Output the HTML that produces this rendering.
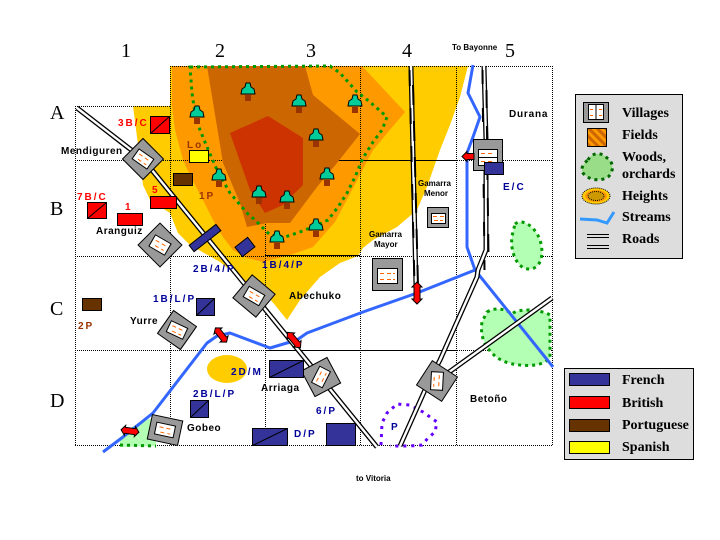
<!DOCTYPE html>
<html><head><meta charset="utf-8"><style>
html,body{margin:0;padding:0;background:#fff;}
svg{display:block;}
.l{font-family:"Liberation Sans",sans-serif;font-weight:bold;font-size:10px;fill:#000;}
.s{font-family:"Liberation Sans",sans-serif;font-weight:bold;font-size:8px;fill:#000;}
.u{font-family:"Liberation Sans",sans-serif;font-weight:bold;font-size:10px;letter-spacing:2px;}
.g{font-family:"Liberation Serif",serif;font-size:20px;fill:#000;}
.lg{font-family:"Liberation Serif",serif;font-weight:bold;font-size:14px;fill:#000;}
</style></head><body>
<svg width="720" height="540" viewBox="0 0 720 540" xmlns="http://www.w3.org/2000/svg">
<rect width="720" height="540" fill="#fff"/>

<!-- heights layers -->
<polygon fill="#FFCC00" points="133,106 170,106 170,66 468,66 460,97 450,125 440,150 427,187 417,210 397,227 373,240 363,248 358,256 340,263 320,277 300,300 287,320 275,305 262,290 245,282 220,262 190,245 178,233 170,213 150,200 143,185 140,160"/>
<polygon fill="#FF9900" points="172,66 362,66 405,112 373,150 352,190 335,222 313,247 290,255 263,262 247,258 233,250 223,237 213,220 203,200 190,175 183,160 175,130 172,106"/>

<!-- grid -->
<g stroke="#000" stroke-width="1" stroke-dasharray="1 1" fill="none">
<line x1="75.5" y1="106" x2="75.5" y2="446"/>
<line x1="170.5" y1="66" x2="170.5" y2="446"/>
<line x1="265.5" y1="66" x2="265.5" y2="446"/>
<line x1="360.5" y1="66" x2="360.5" y2="446"/>
<line x1="456.5" y1="66" x2="456.5" y2="446"/>
<line x1="552.5" y1="66" x2="552.5" y2="446"/>
<line x1="170" y1="66.5" x2="553" y2="66.5"/>
<line x1="75" y1="106.5" x2="171" y2="106.5"/>
<line x1="75" y1="160.5" x2="553" y2="160.5"/>
<line x1="75" y1="256.5" x2="553" y2="256.5"/>
<line x1="75" y1="350.5" x2="553" y2="350.5"/>
<line x1="75" y1="445.5" x2="553" y2="445.5"/>
</g>
<g stroke="#000" stroke-width="1">
<line x1="330" y1="160.5" x2="456" y2="160.5"/>
<line x1="265" y1="255.5" x2="360" y2="255.5"/>
<line x1="265" y1="350.5" x2="457" y2="350.5"/>
</g>

<polygon fill="#CC6600" points="207,66 305,66 313,95 360,134 337,163 317,187 290,223 267,223 247,227 240,203 223,163"/>
<polygon fill="#CC3300" points="230,133 268,116 303,138 303,185 283,205 265,213 250,190"/>

<!-- small heights -->
<ellipse cx="227" cy="369" rx="20" ry="14" fill="#FFCC00"/>

<!-- woods -->
<path d="M190,67 L330,66 L340,73 L357,92 L370,102 L387,117 L382,130 L373,142 L363,158 L355,177 L347,193 L338,207 L328,220 L317,225 L300,232 L285,237 L270,235 L255,220 L247,213 L230,193 L217,170 L207,147 L200,130 L195,113 L192,93 Z" fill="none" stroke="#009900" stroke-width="3" stroke-dasharray="3 4"/>
<path d="M515,224 C522,218 535,226 540,240 C545,256 540,270 528,269 C516,268 510,250 512,236 Z" fill="#B3FFB3" stroke="#009900" stroke-width="3" stroke-dasharray="3 4"/>
<path d="M487,312 C497,306 507,310 512,314 C518,308 540,309 550,315 L550,358 C542,366 530,366 520,365 C508,364 498,360 492,353 C484,345 480,335 482,322 Z" fill="#B3FFB3" stroke="#009900" stroke-width="3" stroke-dasharray="3 4"/>
<path d="M120,438 C126,430 140,420 155,418 L156,446 L120,447 Z" fill="#B3FFB3" stroke="none"/>
<path d="M120,445 L156,446" stroke="#009900" stroke-width="3" stroke-dasharray="3 4" fill="none"/>
<!-- purple area -->
<path d="M381,445 L382,423 L387,413 L397,404 L410,405 L423,412 L437,422 L435,432 L428,438 L422,445 L410,446 L390,446" fill="none" stroke="#6600FF" stroke-width="3" stroke-dasharray="3 5"/>

<!-- trees -->
<g stroke="#000" stroke-width="1">
<g transform="translate(248,89)"><rect x="-3" y="6" width="6" height="6" fill="#993300" stroke="none"/><path d="M-7,5 L-6,0 L-3,-2 L-2,-6 L2,-6 L3,-2 L6,0 L7,5 Z" fill="#00CC99"/></g>
<g transform="translate(299,101)"><rect x="-3" y="6" width="6" height="6" fill="#993300" stroke="none"/><path d="M-7,5 L-6,0 L-3,-2 L-2,-6 L2,-6 L3,-2 L6,0 L7,5 Z" fill="#00CC99"/></g>
<g transform="translate(355,101)"><rect x="-3" y="6" width="6" height="6" fill="#993300" stroke="none"/><path d="M-7,5 L-6,0 L-3,-2 L-2,-6 L2,-6 L3,-2 L6,0 L7,5 Z" fill="#00CC99"/></g>
<g transform="translate(197,112)"><rect x="-3" y="6" width="6" height="6" fill="#993300" stroke="none"/><path d="M-7,5 L-6,0 L-3,-2 L-2,-6 L2,-6 L3,-2 L6,0 L7,5 Z" fill="#00CC99"/></g>
<g transform="translate(316,135)"><rect x="-3" y="6" width="6" height="6" fill="#993300" stroke="none"/><path d="M-7,5 L-6,0 L-3,-2 L-2,-6 L2,-6 L3,-2 L6,0 L7,5 Z" fill="#00CC99"/></g>
<g transform="translate(219,175)"><rect x="-3" y="6" width="6" height="6" fill="#993300" stroke="none"/><path d="M-7,5 L-6,0 L-3,-2 L-2,-6 L2,-6 L3,-2 L6,0 L7,5 Z" fill="#00CC99"/></g>
<g transform="translate(327,174)"><rect x="-3" y="6" width="6" height="6" fill="#993300" stroke="none"/><path d="M-7,5 L-6,0 L-3,-2 L-2,-6 L2,-6 L3,-2 L6,0 L7,5 Z" fill="#00CC99"/></g>
<g transform="translate(259,192)"><rect x="-3" y="6" width="6" height="6" fill="#993300" stroke="none"/><path d="M-7,5 L-6,0 L-3,-2 L-2,-6 L2,-6 L3,-2 L6,0 L7,5 Z" fill="#00CC99"/></g>
<g transform="translate(287,197)"><rect x="-3" y="6" width="6" height="6" fill="#993300" stroke="none"/><path d="M-7,5 L-6,0 L-3,-2 L-2,-6 L2,-6 L3,-2 L6,0 L7,5 Z" fill="#00CC99"/></g>
<g transform="translate(316,225)"><rect x="-3" y="6" width="6" height="6" fill="#993300" stroke="none"/><path d="M-7,5 L-6,0 L-3,-2 L-2,-6 L2,-6 L3,-2 L6,0 L7,5 Z" fill="#00CC99"/></g>
<g transform="translate(277,237)"><rect x="-3" y="6" width="6" height="6" fill="#993300" stroke="none"/><path d="M-7,5 L-6,0 L-3,-2 L-2,-6 L2,-6 L3,-2 L6,0 L7,5 Z" fill="#00CC99"/></g>
</g>

<!-- streams -->
<g fill="none" stroke="#3366FF" stroke-width="3" stroke-linejoin="round">
<polyline points="473,65 468,93 480,117 473,137 467,153 467,247 475,270 553,367"/>
<polyline points="475,270 417,293 363,312 307,333 297,340 270,348 230,333 217,336 207,343 153,413 123,437 103,452"/>
</g>

<!-- roads -->
<g fill="none" stroke-linejoin="round">
<g stroke="#000" stroke-width="5">
<polyline points="77,108 143,159 377,447"/>
<polyline points="411,66 416,286"/>
<polyline points="484,66 486,140 486,250 478,270 477,277 440,360 429,381 400,446"/>
<polyline points="445,375 552,298"/>
</g>
<g stroke="#fff" stroke-width="2.4">
<polyline points="77,108 143,159 377,447"/>
<polyline points="411,66 416,286"/>
<polyline points="484,66 486,140 486,250 478,270 477,277 440,360 429,381 400,446"/>
<polyline points="445,375 552,298"/>
</g>
<g stroke="#000" stroke-width="2">
<line x1="409.5" y1="70" x2="414.5" y2="286" stroke-dasharray="16 22"/>
<line x1="413" y1="85" x2="418" y2="286" stroke-dasharray="20 16"/>
<line x1="482.5" y1="70" x2="484.5" y2="270" stroke-dasharray="14 24"/>
<line x1="486.5" y1="90" x2="488.5" y2="260" stroke-dasharray="18 18"/>
</g>
</g>

<!-- villages -->
<g stroke="#000" stroke-width="1">
<g transform="translate(143,159) rotate(45)"><rect x="-14.5" y="-14.5" width="29" height="29" fill="#999"/><g transform="rotate(-10)"><rect x="-9" y="-6" width="18" height="12" fill="#fff"/><path d="M-6,-2h4M1,-2h4M-4,3h4M3,3h3" stroke="#FF6600"/></g></g>
<g transform="translate(160,245) rotate(45)"><rect x="-15.5" y="-15.5" width="31" height="31" fill="#999"/><g transform="rotate(-15)"><rect x="-9" y="-6.5" width="18" height="13" fill="#fff"/><path d="M-6,-2h4M1,-2h4M-4,3h4M3,3h3" stroke="#FF6600"/></g></g>
<g transform="translate(254,296) rotate(40)"><rect x="-15" y="-15" width="30" height="30" fill="#999"/><g transform="rotate(-10)"><rect x="-9" y="-6" width="18" height="12" fill="#fff"/><path d="M-6,-2h4M1,-2h4M-4,3h4M3,3h3" stroke="#FF6600"/></g></g>
<g transform="translate(177,330) rotate(35)"><rect x="-14" y="-14" width="28" height="28" fill="#999"/><g transform="rotate(-10)"><rect x="-9" y="-6" width="18" height="12" fill="#fff"/><path d="M-6,-2h4M1,-2h4M-4,3h4M3,3h3" stroke="#FF6600"/></g></g>
<g transform="translate(165,430) rotate(12)"><rect x="-15.5" y="-12.5" width="31" height="25" fill="#999"/><rect x="-9.5" y="-6" width="19" height="12" fill="#fff"/><path d="M-6,-2h4M1,-2h4M-4,3h4M3,3h3" stroke="#FF6600"/></g>
<g transform="translate(321,377) rotate(-28)"><rect x="-14.5" y="-14.5" width="29" height="29" fill="#999"/><g transform="rotate(-35)"><rect x="-9" y="-6" width="18" height="12" fill="#fff"/><path d="M-6,-2h4M1,-2h4M-4,3h4M3,3h3" stroke="#FF6600"/></g></g>
<g transform="translate(437,381) rotate(33)"><rect x="-15" y="-14.5" width="30" height="29" fill="#999"/><g transform="rotate(60)"><rect x="-9" y="-6" width="18" height="12" fill="#fff"/><path d="M-6,-2h4M1,-2h4M-4,3h4M3,3h3" stroke="#FF6600"/></g></g>
<g><rect x="372.5" y="258.5" width="30" height="32" fill="#999"/><rect x="377.5" y="268.5" width="20" height="15" fill="#fff"/><path d="M380,273.5h4M387,273.5h4M393,273.5h2M380,279.5h4M387,279.5h4M393,279.5h2" stroke="#FF6600"/></g>
<g><rect x="427.5" y="207.5" width="21" height="20" fill="#999"/><rect x="431.5" y="213.5" width="14" height="10" fill="#fff"/><path d="M433,216.5h4M440,216.5h4M434,220.5h4M440,220.5h3" stroke="#FF6600"/></g>
<g><rect x="473.5" y="139.5" width="29" height="31" fill="#999"/><rect x="478.5" y="149.5" width="19" height="16" fill="#fff"/><path d="M478.5,157.5h19" stroke="#000"/><path d="M481,153.5h4M488,153.5h4M481,161.5h4M488,161.5h4" stroke="#FF6600"/></g>
</g>

<!-- units -->
<g stroke="#000" stroke-width="1">
<rect x="150.5" y="116.5" width="19" height="17" fill="#FF0000"/><line x1="150.5" y1="133.5" x2="169.5" y2="116.5"/>
<rect x="87.5" y="202.5" width="19" height="16" fill="#FF0000"/><line x1="87.5" y1="218.5" x2="106.5" y2="202.5"/>
<rect x="117.5" y="213.5" width="25" height="12" fill="#FF0000"/>
<rect x="150.5" y="196.5" width="26" height="12" fill="#FF0000"/>
<rect x="173.5" y="173.5" width="19" height="12" fill="#663300"/>
<rect x="82.5" y="298.5" width="19" height="12" fill="#663300"/>
<rect x="189.5" y="150.5" width="19" height="12" fill="#FFFF00"/>
<rect x="188" y="234" width="34" height="8" fill="#333399" transform="rotate(-38 205 238)"/>
<rect x="237" y="241" width="16" height="12" fill="#333399" transform="rotate(-38 245 247)"/>
<rect x="196.5" y="298.5" width="18" height="17" fill="#333399"/><line x1="196.5" y1="315.5" x2="214.5" y2="298.5"/>
<rect x="269.5" y="360.5" width="34" height="17" fill="#333399"/><line x1="269.5" y1="377.5" x2="303.5" y2="360.5"/>
<rect x="190.5" y="400.5" width="18" height="17" fill="#333399"/><line x1="190.5" y1="417.5" x2="208.5" y2="400.5"/>
<rect x="252.5" y="428.5" width="35" height="17" fill="#333399"/><line x1="252.5" y1="445.5" x2="287.5" y2="428.5"/>
<rect x="326.5" y="423.5" width="29" height="22" fill="#333399"/>
<rect x="484.5" y="162.5" width="19" height="12" fill="#333399"/>
</g>

<!-- red arrows -->
<g fill="#FF0000" stroke="#000" stroke-width="1">
<polygon transform="translate(417,293) rotate(90)" points="-11,0 -6,-5 -6,-3 6,-3 6,-5 11,0 6,5 6,3 -6,3 -6,5"/>
<polygon transform="translate(294,340) rotate(50)" points="-10,0 -5,-5 -5,-3 5,-3 5,-5 10,0 5,5 5,3 -5,3 -5,5"/>
<polygon transform="translate(221,335) rotate(52)" points="-9,0 -5,-5 -5,-3 5,-3 5,-5 9,0 5,5 5,3 -5,3 -5,5"/>
<polygon transform="translate(130,431) rotate(8)" points="-9,0 -5,-5 -5,-3 5,-3 5,-5 9,0 5,5 5,3 -5,3 -5,5"/>
<polygon points="462,156.5 467,151.5 467,153.5 474,153.5 474,159.5 467,159.5 467,161.5"/>
</g>

<!-- grid labels -->
<text class="g" x="121" y="57">1</text>
<text class="g" x="215" y="57">2</text>
<text class="g" x="306" y="57">3</text>
<text class="g" x="402" y="57">4</text>
<text class="g" x="505" y="57">5</text>
<text class="g" x="50" y="119">A</text>
<text class="g" x="50" y="215">B</text>
<text class="g" x="50" y="315">C</text>
<text class="g" x="50" y="407">D</text>

<!-- place labels -->
<text class="s" x="452" y="50">To Bayonne</text>
<text class="s" x="356" y="481">to Vitoria</text>
<text class="l" x="509" y="117" style="letter-spacing:0.8px">Durana</text>
<text class="s" x="418" y="186">Gamarra</text>
<text class="s" x="424" y="196">Menor</text>
<text class="s" x="369" y="237">Gamarra</text>
<text class="s" x="374" y="247">Mayor</text>
<text class="l" x="61" y="154" style="letter-spacing:0.5px">Mendiguren</text>
<text class="l" x="96" y="234" style="letter-spacing:0.5px">Aranguiz</text>
<text class="l" x="289" y="299" style="letter-spacing:0.5px">Abechuko</text>
<text class="l" x="130" y="324" style="letter-spacing:0.5px">Yurre</text>
<text class="l" x="261" y="391" style="letter-spacing:0.5px">Arriaga</text>
<text class="l" x="187" y="431" style="letter-spacing:0.5px">Gobeo</text>
<text class="l" x="470" y="402" style="letter-spacing:0.5px">Betoño</text>

<!-- unit labels -->
<text class="u" x="118" y="126" fill="#FF0000">3B/C</text>
<text class="u" x="77" y="200" fill="#FF0000">7B/C</text>
<text class="u" x="125" y="210" fill="#FF0000">1</text>
<text class="u" x="152" y="193" fill="#FF0000">5</text>
<text class="u" x="187" y="148" fill="#993300">Lo</text>
<text class="u" x="199" y="199" fill="#993300">1P</text>
<text class="u" x="78" y="329" fill="#993300">2P</text>
<text class="u" x="193" y="272" fill="#000099">2B/4/P</text>
<text class="u" x="262" y="268" fill="#000099">1B/4/P</text>
<text class="u" x="153" y="302" fill="#000099">1B/L/P</text>
<text class="u" x="231" y="375" fill="#000099">2D/M</text>
<text class="u" x="193" y="397" fill="#000099">2B/L/P</text>
<text class="u" x="316" y="414" fill="#000099">6/P</text>
<text class="u" x="294" y="437" fill="#000099">D/P</text>
<text class="u" x="503" y="190" fill="#000099">E/C</text>
<text class="u" x="391" y="430" fill="#000099">P</text>

<!-- legend 1 -->
<rect x="575.5" y="94.5" width="107" height="164" fill="#DDDDDD" stroke="#000"/>
<rect x="583.5" y="102.5" width="25" height="20" fill="#999" stroke="#000"/>
<rect x="588.5" y="104.5" width="15" height="15" fill="#fff" stroke="#000"/>
<path d="M596,104.5v15" stroke="#000"/>
<path d="M590,109.5h3M599,109.5h3M590,115.5h3M599,115.5h3" stroke="#FF6600"/>
<defs><pattern id="st" width="6" height="6" patternUnits="userSpaceOnUse" patternTransform="rotate(-45)"><rect width="6" height="6" fill="#FF9900"/><rect width="3" height="6" fill="#CC6600"/></pattern></defs>
<rect x="587.5" y="128.5" width="19" height="18" fill="url(#st)" stroke="#000"/>
<path d="M588,160 C592,152 602,152 607,158 C614,162 614,172 608,177 C600,182 588,180 583,173 C580,168 584,163 588,160 Z" fill="#99DD88" stroke="#006600" stroke-width="3" stroke-dasharray="3 4"/>
<ellipse cx="596" cy="196" rx="14" ry="8" fill="#FFCC00" stroke="#000" stroke-dasharray="1 1"/>
<ellipse cx="596" cy="196" rx="11" ry="6" fill="#FF9900"/>
<ellipse cx="596" cy="196" rx="8" ry="4.5" fill="#CC9900" stroke="#000" stroke-dasharray="1 1"/>
<polyline points="580,219 597,220 607,223 614,212" fill="none" stroke="#3399FF" stroke-width="3"/>
<path d="M587,234.5h22M587,237.5h22M587,245.5h22M587,248.5h22" stroke="#000"/>
<text class="lg" x="622" y="117">Villages</text>
<text class="lg" x="622" y="139">Fields</text>
<text class="lg" x="622" y="161">Woods,</text>
<text class="lg" x="622" y="178">orchards</text>
<text class="lg" x="622" y="200">Heights</text>
<text class="lg" x="622" y="221">Streams</text>
<text class="lg" x="622" y="243">Roads</text>

<!-- legend 2 -->
<rect x="564.5" y="368.5" width="129" height="91" fill="#DDDDDD" stroke="#000"/>
<rect x="569.5" y="373.5" width="40" height="12" fill="#333399" stroke="#000"/>
<rect x="569.5" y="396.5" width="40" height="12" fill="#FF0000" stroke="#000"/>
<rect x="569.5" y="419.5" width="40" height="12" fill="#663300" stroke="#000"/>
<rect x="569.5" y="441.5" width="40" height="12" fill="#FFFF00" stroke="#000"/>
<text class="lg" x="622" y="384">French</text>
<text class="lg" x="622" y="407">British</text>
<text class="lg" x="622" y="429">Portuguese</text>
<text class="lg" x="622" y="451">Spanish</text>
</svg>
</body></html>
